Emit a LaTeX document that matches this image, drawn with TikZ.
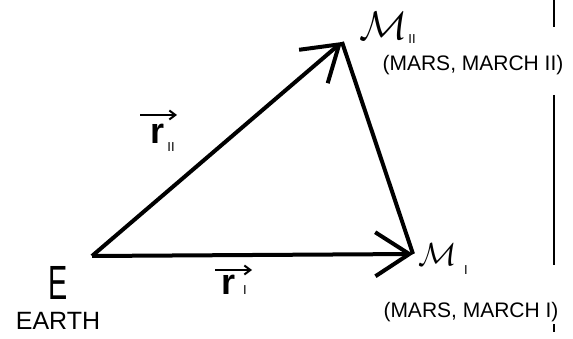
\documentclass[tikz,border=0pt]{standalone}
\usepackage{fontspec}
\setmainfont{Liberation Sans}
\usetikzlibrary{arrows.meta}
\begin{document}
\begin{tikzpicture}[x=1pt,y=-1pt,
  vec/.style={line width=4pt,-{Straight Barb[length=34pt,width=44pt]}},
  side/.style={line width=4pt},
  rule/.style={line width=2.5pt},
  lbl/.style={inner sep=0pt,font=\fontsize{21}{21}\selectfont},
  sub/.style={inner sep=0pt,font=\fontsize{13}{13}\selectfont},
  mag/.style={inner sep=0pt,scale=#1,transform shape},
  tiny/.style={line width=2pt,-{Straight Barb[length=6pt,width=9pt]}}]
\useasboundingbox (0,0) rectangle (573,339);
\coordinate (E) at (92,256);
\coordinate (Mii) at (342,42);
\coordinate (Mi) at (413,254);
\draw[side] (Mii) -- (Mi);
\draw[vec] (E) -- (Mii);
\draw[vec] (E) -- (Mi);
% right rule
\coordinate (R1) at (554,0); \coordinate (R2) at (554,27);
\coordinate (R3) at (554,95); \coordinate (R4) at (554,265);
\coordinate (R5) at (554,324); \coordinate (R6) at (554,332);
\draw[rule] (R1) -- (R2);
\draw[rule] (R3) -- (R4);
\draw[rule] (R5) -- (R6);
% labels
\node[inner sep=0pt,font=\fontsize{48}{48}\selectfont,xscale=0.6,transform shape] (lE) at (58,283) {E};
\node[lbl,font=\fontsize{25}{25}\selectfont] (lEarth) at (58,321) {EARTH};
\node[mag=4.0] (lMii) at (384,26) {$\mathcal{M}$};
\node[sub] (sMii) at (412,39) {II};
\node[lbl] (tMii) at (473,65) {(MARS, MARCH II)};
\node[mag=3.2] (lMi) at (438,255) {$\mathcal{M}$};
\node[sub] (sMi) at (466,270) {I};
\node[lbl] (tMi) at (471,312) {(MARS, MARCH I)};
\node[mag=3.6] (rii) at (158,134) {$\mathbf{r}$};
\coordinate (aii1) at (140,115); \coordinate (aii2) at (177,115);
\draw[tiny] (aii1) -- (aii2);
\node[sub] (sii) at (171,147) {II};
\node[mag=3.6] (ri) at (229,285) {$\mathbf{r}$};
\coordinate (ai1) at (215,270); \coordinate (ai2) at (252,270);
\draw[tiny] (ai1) -- (ai2);
\node[sub] (si) at (245,290) {I};
\end{tikzpicture}
\end{document}
